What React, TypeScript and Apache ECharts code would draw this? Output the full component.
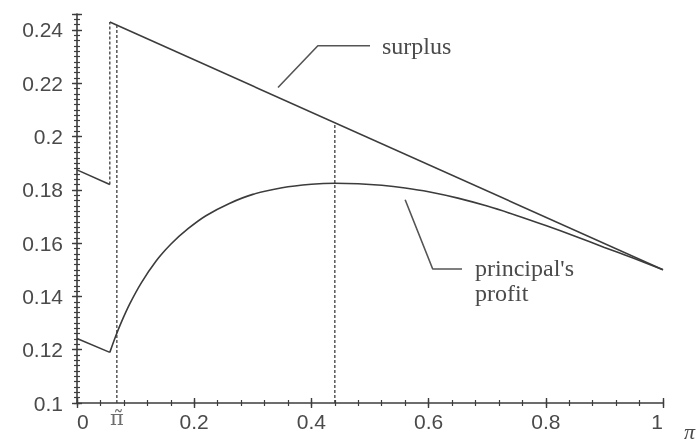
import React, { useEffect, useRef } from "react";
import * as echarts from "echarts";

// x positions of notable points
const jumpX = 0.056;
const piTildeX = 0.068;
const optX = 0.44;

// surplus (two linear pieces)
const surplusLowX = [0, 0.056];
const surplusLowY = [0.1875, 0.182];
const surplusHighX = [0.056, 1];
const surplusHighY = [0.243, 0.15];

// principal's profit
const profitLowX = [0, 0.056];
const profitLowY = [0.1242, 0.119];
const profitX = [0.056, 0.065, 0.075, 0.09, 0.11, 0.135, 0.16, 0.19, 0.22, 0.26, 0.3, 0.35, 0.4, 0.44, 0.48, 0.52, 0.56, 0.6, 0.65, 0.7, 0.75, 0.8, 0.85, 0.9, 0.95, 1.0];
const profitY = [0.119, 0.1245, 0.13, 0.1372, 0.1452, 0.1533, 0.1596, 0.1655, 0.1703, 0.1749, 0.1783, 0.1808, 0.1821, 0.1825, 0.1823, 0.1817, 0.1807, 0.1793, 0.1769, 0.1739, 0.1704, 0.1666, 0.1626, 0.1584, 0.1543, 0.15];

// dashed verticals: [x, yFrom, yTo]
const dashX = [jumpX, piTildeX, optX];
const dashFrom = [0.182, 0.1, 0.1];
const dashTo = [0.243, 0.2418, 0.2052];

// annotation leader lines
const surplusLeaderX = [0.343, 0.411, 0.5];
const surplusLeaderY = [0.2184, 0.2341, 0.2341];
const profitLeaderX = [0.56, 0.607, 0.657];
const profitLeaderY = [0.1763, 0.1503, 0.1503];

// axis ticks
const yMin = 0.1;
const yMax = 0.246;
const yMajor = 0.02;
const yMinor = 0.002;
const xMin = 0;
const xMax = 1;
const xMajor = 0.2;
const xMinor = 0.04;

const zip = (xs: number[], ys: number[]) => xs.map((x, i) => [x, ys[i]]);

const LINE = "#3c3c3c";
const TEXT = "#4a4a4a";
const SANS = "'Liberation Sans', Arial, sans-serif";
const SERIF = "'Liberation Serif', 'Times New Roman', serif";

export default function App() {
  const ref = useRef<HTMLDivElement>(null);
  useEffect(() => {
    if (!ref.current) return;
    const chart = echarts.init(ref.current, null, { renderer: "svg" });
    const hidden = { show: false };
    const fmt = (v: number) => String(+v.toFixed(3));
    const yBase = { type: "value", min: yMin, max: yMax, position: "left", splitLine: hidden, axisLabel: hidden, axisLine: hidden };
    const xBase = { type: "value", min: xMin, max: xMax, position: "bottom", splitLine: hidden, axisLabel: hidden, axisLine: hidden };

    const lineSeries = (name: string, data: number[][], extra: any = {}) => ({
      type: "line",
      name,
      data,
      symbol: "none",
      lineStyle: { color: LINE, width: 1.6 },
      ...extra,
    });

    const dashed = dashX.map((x, i) =>
      lineSeries("dash" + i, [[x, dashFrom[i]], [x, dashTo[i]]], {
        lineStyle: { color: LINE, width: 1.3, type: [3, 2] },
      })
    );

    chart.setOption({
      animation: false,
      grid: { left: 77, right: 34, top: 14, bottom: 40 },
      graphic: [
        {
          type: "text",
          left: 684,
          top: 420,
          style: { text: "π", font: "italic 22px 'Liberation Serif', serif", fill: TEXT },
        },
      ],
      xAxis: [
        {
          ...xBase,
          interval: xMajor,
          axisLine: { show: true, lineStyle: { color: LINE, width: 1.6 } },
          axisTick: hidden,
          axisLabel: {
            show: true,
            formatter: fmt,
            fontFamily: SANS,
            fontSize: 21,
            color: TEXT,
            margin: 8,
            alignMinLabel: "left",
            alignMaxLabel: "right",
          },
        },
        { ...xBase, interval: xMajor, offset: -5, axisTick: { show: true, length: 10, lineStyle: { color: LINE, width: 1.4 } } },
        { ...xBase, interval: xMinor, offset: -3, axisTick: { show: true, length: 6, lineStyle: { color: LINE, width: 1.2 } } },
      ],
      yAxis: [
        {
          ...yBase,
          interval: yMajor,
          axisLine: { show: true, lineStyle: { color: LINE, width: 1.6 } },
          axisTick: hidden,
          axisLabel: {
            show: true,
            formatter: (v: number) => (Math.abs(v - yMax) < 1e-9 ? "" : fmt(v)),
            fontFamily: SANS,
            fontSize: 21,
            color: TEXT,
            margin: 14,
          },
        },
        { ...yBase, interval: yMajor, offset: -5, axisTick: { show: true, length: 10, lineStyle: { color: LINE, width: 1.4 } } },
        { ...yBase, interval: yMinor, offset: -3, axisTick: { show: true, length: 6, lineStyle: { color: LINE, width: 1.2 } } },
      ],
      series: [
        lineSeries("surplusLow", zip(surplusLowX, surplusLowY)),
        lineSeries("surplus", zip(surplusHighX, surplusHighY)),
        lineSeries("profitLow", zip(profitLowX, profitLowY)),
        lineSeries("profit", zip(profitX, profitY), { smooth: 0.3 }),
        ...dashed,
        lineSeries("surplusLeader", zip(surplusLeaderX, surplusLeaderY), {
          lineStyle: { color: "#555", width: 1.6 },
          endLabel: { show: true, formatter: "surplus", distance: 12, fontFamily: SERIF, fontSize: 24, color: TEXT },
        }),
        lineSeries("profitLeader", zip(profitLeaderX, profitLeaderY), {
          lineStyle: { color: "#555", width: 1.6 },
          endLabel: {
            show: true,
            formatter: "principal's\nprofit",
            distance: 13,
            fontFamily: SERIF,
            fontSize: 24,
            lineHeight: 25,
            color: TEXT,
            offset: [0, 12],
          },
        }),
        {
          type: "scatter",
          name: "piTilde",
          data: [[piTildeX, yMin]],
          symbolSize: 0,
          label: {
            show: true,
            position: "bottom",
            distance: 4,
            formatter: "π\u0303",
            fontFamily: "'DejaVu Serif', serif",
            fontSize: 21,
            color: TEXT,
          },
        },
      ],
    });
    return () => chart.dispose();
  }, []);
  return <div ref={ref} style={{ position: "fixed", left: 0, top: 0, width: 697, height: 443 }} />;
}
